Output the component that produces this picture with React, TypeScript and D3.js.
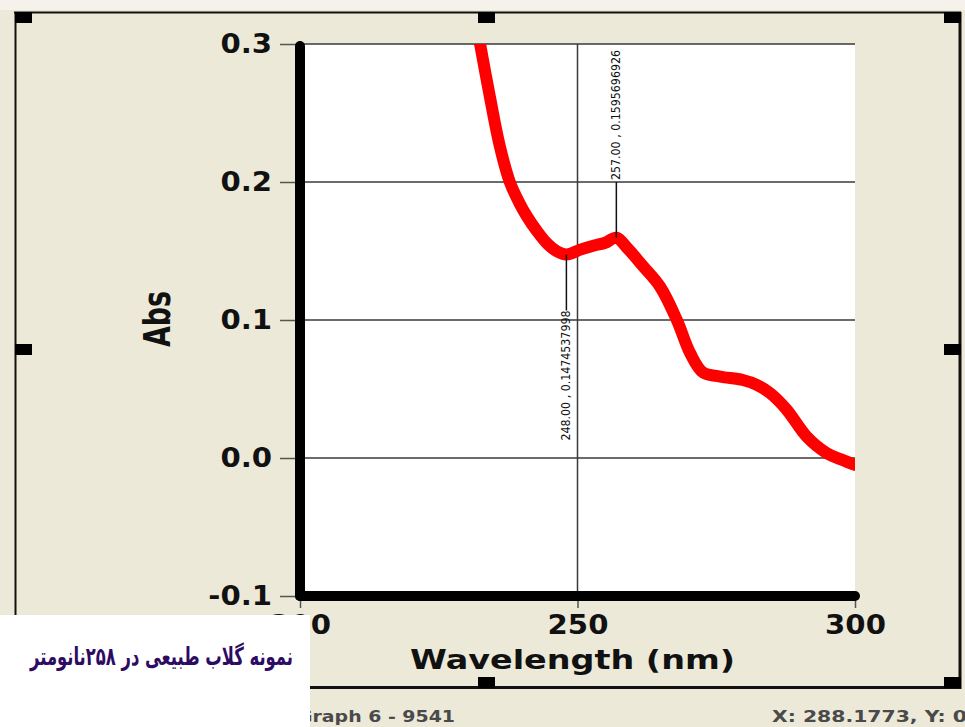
import React, { useEffect, useRef } from "react";
import * as d3 from "d3";

// spectrum
const wavelengths = [232.4, 234.2, 236.0, 237.8, 239.5, 240.9, 242.6, 244.4, 246.2, 248, 250.5, 253, 255, 257, 259, 261.8, 264.9, 267.9, 270.3, 272.6, 275.7, 279.8, 282.3, 284.7, 287.7, 291.3, 294.9, 297.5, 300];
const absorbance = [0.301, 0.262, 0.226, 0.2, 0.185, 0.175, 0.165, 0.156, 0.15, 0.1475, 0.151, 0.154, 0.156, 0.1596, 0.152, 0.139, 0.124, 0.1, 0.076, 0.062, 0.059, 0.0565, 0.053, 0.047, 0.035, 0.0155, 0.0036, -0.001, -0.005];

const xTicks = [200, 250, 300];
const yTicks = [-0.1, 0.0, 0.1, 0.2, 0.3];
const gridY = [0.0, 0.1, 0.2, 0.3];
const gridX = [250];

const peaks = [
  { x: 248, y: 0.1474537998, label: "248.00 , 0.1474537998", dir: "down" },
  { x: 257, y: 0.1595696926, label: "257.00 , 0.1595696926", dir: "up" }
];

const caption = "نمونه گلاب طبیعی  در ۲۵۸نانومتر";
const statusLeft = "Graph 6 - 9541";
const statusRight = "X: 288.1773, Y: 0";

const W = 965;
const H = 727;

const App = () => {
  const svgRef = useRef(null);

  useEffect(() => {
    const svg = d3.select(svgRef.current);
    svg.selectAll("*").remove();

    const margin = { top: 44, bottom: 131, left: 300, right: 110 };
    const x = d3.scaleLinear().domain([200, 300]).range([margin.left, W - margin.right]);
    const y = d3.scaleLinear().domain([-0.1, 0.3]).range([H - margin.bottom, margin.top]);
    const font = "'DejaVu Sans', Verdana, sans-serif";
    const fmt = d => d3.format(".1f")(d).replace("\u2212", "-");

    // ---------- window background
    svg.append("rect").attr("width", W).attr("height", H).attr("fill", "#ECE9D8");
    svg.append("rect").attr("width", W).attr("height", 10).attr("fill", "#F4F2EA");

    // frame
    svg.append("line").attr("x1", 14).attr("x2", 961).attr("y1", 12.5).attr("y2", 12.5).attr("stroke", "#111").attr("stroke-width", 2);
    svg.append("line").attr("x1", 15.5).attr("x2", 15.5).attr("y1", 12).attr("y2", 688).attr("stroke", "#111").attr("stroke-width", 2);
    svg.append("line").attr("x1", 960).attr("x2", 960).attr("y1", 12).attr("y2", 689).attr("stroke", "#111").attr("stroke-width", 3);
    svg.append("line").attr("x1", 14).attr("x2", 961).attr("y1", 687.5).attr("y2", 687.5).attr("stroke", "#111").attr("stroke-width", 3);
    const handles = [[15, 12], [478, 12], [944, 12], [15, 344], [944, 344], [15, 677], [478, 677], [944, 677]];
    svg.selectAll(".handle").data(handles).join("rect")
      .attr("class", "handle")
      .attr("x", d => d[0]).attr("y", d => d[1])
      .attr("width", 17).attr("height", 11).attr("fill", "#000");

    // ---------- plot area
    svg.append("rect")
      .attr("x", x(200)).attr("y", y(0.3))
      .attr("width", x(300) - x(200)).attr("height", y(-0.1) - y(0.3))
      .attr("fill", "#fff");

    svg.append("defs").append("clipPath").attr("id", "plot-clip")
      .append("rect")
      .attr("x", x(200)).attr("y", y(0.3))
      .attr("width", x(300) - x(200)).attr("height", y(-0.1) - y(0.3));

    // grid
    svg.selectAll(".grid-y").data(gridY).join("line")
      .attr("class", "grid-y")
      .attr("x1", x(200)).attr("x2", x(300))
      .attr("y1", d => y(d)).attr("y2", d => y(d))
      .attr("stroke", "#3a3a3a").attr("stroke-width", 1.5);
    svg.selectAll(".grid-x").data(gridX).join("line")
      .attr("class", "grid-x")
      .attr("x1", d => x(d)).attr("x2", d => x(d))
      .attr("y1", y(0.3)).attr("y2", y(-0.1))
      .attr("stroke", "#3a3a3a").attr("stroke-width", 1.5);

    // ---------- axes
    const yAxis = svg.append("g")
      .attr("transform", `translate(${x(200)},0)`)
      .call(d3.axisLeft(y).tickValues(yTicks).tickFormat(fmt).tickSize(20).tickPadding(8));
    yAxis.select(".domain").remove();
    yAxis.selectAll(".tick line").attr("stroke", "#555").attr("stroke-width", 1.5);
    yAxis.selectAll(".tick text")
      .attr("class", "wide")
      .attr("font-family", font).attr("font-weight", "bold").attr("font-size", 26)
      .attr("fill", "#111");

    const xAxis = svg.append("g")
      .attr("transform", `translate(0,${y(-0.1)})`)
      .call(d3.axisBottom(x).tickValues(xTicks).tickFormat(d3.format("d")).tickSize(12).tickPadding(8));
    xAxis.select(".domain").remove();
    xAxis.selectAll(".tick line").attr("stroke", "#555").attr("stroke-width", 1.5);
    xAxis.selectAll(".tick text")
      .attr("class", "wide")
      .attr("font-family", font).attr("font-weight", "bold").attr("font-size", 26)
      .attr("fill", "#111");

    // thick axis lines
    svg.append("line")
      .attr("x1", x(200)).attr("x2", x(200))
      .attr("y1", y(0.3) + 2).attr("y2", y(-0.1))
      .attr("stroke", "#000").attr("stroke-width", 10).attr("stroke-linecap", "round");
    svg.append("line")
      .attr("x1", x(200)).attr("x2", x(300))
      .attr("y1", y(-0.1)).attr("y2", y(-0.1))
      .attr("stroke", "#000").attr("stroke-width", 10).attr("stroke-linecap", "round");

    // axis titles
    svg.append("text")
      .attr("class", "wide")
      .attr("data-target", 325)
      .attr("x", x(250) - 5).attr("y", 669)
      .attr("text-anchor", "middle")
      .attr("font-family", font).attr("font-weight", "bold").attr("font-size", 26)
      .attr("fill", "#111")
      .text("Wavelength (nm)");

    svg.append("text")
      .attr("transform", `translate(170,${(y(0.1) + y(0.0)) / 2 - 70}) rotate(-90)`)
      .attr("text-anchor", "middle")
      .attr("font-family", font).attr("font-weight", "bold").attr("font-size", 38)
      .attr("textLength", 56).attr("lengthAdjust", "spacingAndGlyphs")
      .attr("fill", "#111")
      .text("Abs");

    // ---------- spectrum
    const line = d3.line()
      .x(d => x(d[0]))
      .y(d => y(d[1]))
      .curve(d3.curveCatmullRom.alpha(0.5));
    svg.append("path")
      .datum(d3.zip(wavelengths, absorbance))
      .attr("clip-path", "url(#plot-clip)")
      .attr("d", line)
      .attr("fill", "none")
      .attr("stroke", "#FF0000")
      .attr("stroke-width", 12)
      .attr("stroke-linejoin", "round")
      .attr("stroke-linecap", "round");

    // peak annotations
    peaks.forEach(p => {
      const px = x(p.x);
      const py = y(p.y);
      const end = p.dir === "down" ? py + 56 : y(0.2);
      svg.append("line")
        .attr("x1", px).attr("x2", px)
        .attr("y1", py).attr("y2", end)
        .attr("stroke", "#111").attr("stroke-width", 1.5);
      const textStart = p.dir === "down" ? end + 130 : end - 2;
      svg.append("text")
        .attr("transform", `translate(${px},${textStart}) rotate(-90)`)
        .attr("dominant-baseline", "central")
        .attr("font-family", "'Liberation Sans Narrow', 'DejaVu Sans Condensed', Arial, sans-serif")
        .attr("font-size", 12)
        .attr("textLength", 130).attr("lengthAdjust", "spacingAndGlyphs")
        .attr("fill", "#111")
        .text(p.label);
    });

    // stretch wide labels a little, as in the screenshot
    svg.selectAll("text.wide").each(function () {
      const el = this;
      const len = el.getComputedTextLength();
      const target = +el.getAttribute("data-target") || len * 1.12;
      el.setAttribute("textLength", target);
      el.setAttribute("lengthAdjust", "spacingAndGlyphs");
    });

    // ---------- status bar
    svg.append("text")
      .attr("x", 297).attr("y", 722)
      .attr("font-family", font).attr("font-weight", "bold").attr("font-size", 15)
      .attr("textLength", 158).attr("lengthAdjust", "spacingAndGlyphs")
      .attr("fill", "#4a4a4a")
      .text(statusLeft);
    svg.append("text")
      .attr("x", 772).attr("y", 722)
      .attr("font-family", font).attr("font-weight", "bold").attr("font-size", 15)
      .attr("textLength", 195).attr("lengthAdjust", "spacingAndGlyphs")
      .attr("fill", "#4a4a4a")
      .text(statusRight);

    // ---------- caption box
    svg.append("rect")
      .attr("x", 0).attr("y", 615)
      .attr("width", 310).attr("height", H - 615)
      .attr("fill", "#fff");
    svg.append("text")
      .attr("x", 30).attr("y", 665)
      .attr("font-family", font).attr("font-weight", "bold").attr("font-size", 25)
      .attr("textLength", 263).attr("lengthAdjust", "spacingAndGlyphs")
      .attr("fill", "#2E0B62")
      .text(caption);
  }, []);

  return (
    <div style={{ position: "fixed", left: 0, top: 0 }}>
      <svg ref={svgRef} width={W} height={H} style={{ display: "block" }} />
    </div>
  );
};

export default App;
